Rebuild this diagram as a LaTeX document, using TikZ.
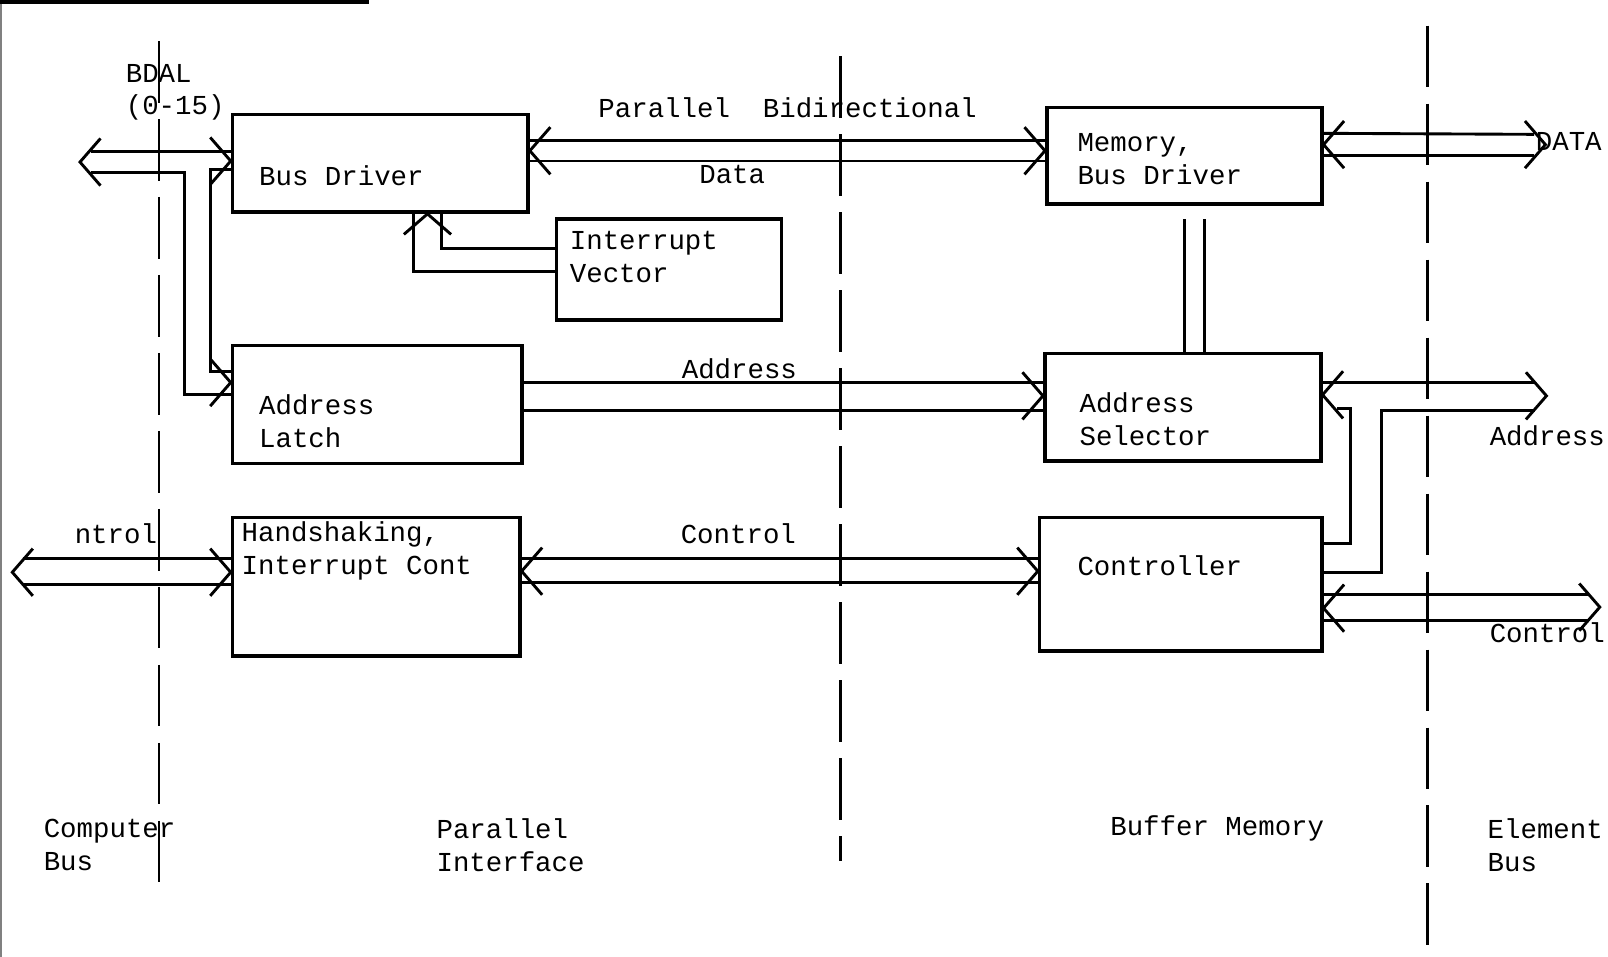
\documentclass[tikz,border=0pt]{standalone}
\usepackage{fontspec}
\setmonofont{Liberation Mono}
\usetikzlibrary{calc}
\tikzset{
  blk/.style={draw, line width=1pt, anchor=north west, inner sep=0pt},
  lbl/.style={font=\ttfamily\fontsize{7.6}{9.1}\selectfont, anchor=west, align=left, inner sep=0pt},
  busln/.style={line width=0.8pt},
  divider/.style={line width=0.8pt, dash pattern=on 0.6cm off 0.16cm},
  chev/.pic={\draw[line width=0.8pt] (-20,-23) -- (0,0) -- (-20,23);}
}
\begin{document}
\begin{tikzpicture}[x=0.01cm, y=-0.01cm]
\useasboundingbox (0,0) rectangle (1568,933);
% edges of the sheet
\draw[gray, line width=0.8pt] (1,0) -- (1,933);
\draw[black, line width=1pt] (0,2) -- (360,2);
% dividers
\draw[divider] (155,40) -- (155,870);
\draw[divider] (820,55) -- (820,840);
\draw[divider] (1392,25) -- (1392,930);
% blocks
\node[blk, minimum width=2.88cm, minimum height=0.95cm] (bd) at (225,110) {};
\node[blk, minimum width=2.19cm, minimum height=0.98cm] (iv) at (541,212) {};
\node[blk, minimum width=2.82cm, minimum height=1.15cm] (al) at (225,335) {};
\node[blk, minimum width=2.80cm, minimum height=1.35cm] (hs) at (225,503) {};
\node[blk, minimum width=2.68cm, minimum height=0.94cm] (mb) at (1019,103) {};
\node[blk, minimum width=2.69cm, minimum height=1.05cm] (as) at (1017,343) {};
\node[blk, minimum width=2.75cm, minimum height=1.30cm] (ct) at (1012,503) {};
\node[lbl] (bdt) at (252,171) {Bus Driver};
\node[lbl] (ivt) at (555,251) {Interrupt\\Vector};
\node[lbl] (alt) at (252,411) {Address\\Latch};
\node[lbl] (hst) at (235,537) {Handshaking,\\Interrupt Cont};
\node[lbl] (mbt) at (1050,155) {Memory,\\Bus Driver};
\node[lbl] (ast) at (1052,409) {Address\\Selector};
\node[lbl] (ctt) at (1050,552) {Controller};
% bus labels
\node[lbl] (bdal) at (122,90) {BDAL\\(0-15)};
\node[lbl, anchor=center] (pbd) at (768,105) {Parallel\ \ Bidirectional};
\node[lbl, anchor=center] (datal) at (714,170) {Data};
\node[lbl, anchor=center] (addrl) at (721,360) {Address};
\node[lbl, anchor=center] (ctrll) at (720,520) {Control};
\node[lbl, anchor=center] (ntrl) at (113,520) {ntrol};
\node[lbl] (dataout) at (1497,138) {DATA};
\node[lbl] (addrout) at (1452,425) {Address};
\node[lbl] (ctrlout) at (1452,617) {Control};
% section names
\node[lbl] (cbus) at (42,824) {Computer\\Bus};
\node[lbl] (pint) at (425,824) {Parallel\\Interface};
\node[lbl] (bmem) at (1082,808) {Buffer Memory};
\node[lbl] (ebus) at (1450,824) {Element\\Bus};
% BDAL bus
\coordinate (bdalend) at (78,158);
\draw[busln] ($(bdalend)+(11,-10)$) -- ($(bd.north west)+(0,38)$);
\draw[busln] ($(bdalend)+(11,10)$) -| (180,385) -- ($(al.north west)+(0,50)$);
\draw[busln] ($(bd.north west)+(0,55)$) -| (205,362) -- ($(al.north west)+(0,27)$);
\pic[rotate=180] at (bdalend) {chev};
\pic at ($(bd.north west)+(0,47)$) {chev};
\pic at ($(al.north west)+(0,38)$) {chev};
% data bus
\draw[busln] ($(bd.north east)+(0,27)$) -- ($(mb.north west)+(0,34)$);
\draw[busln] ($(bd.north east)+(0,47)$) -- ($(mb.north west)+(0,54)$);
\pic[rotate=180] at ($(bd.north east)+(0,37)$) {chev};
\pic at ($(mb.north west)+(0,44)$) {chev};
% interrupt vector
\draw[busln] ($(iv.north west)+(0,30)$) -| ($(bd.south)+(60,0)$);
\draw[busln] ($(iv.north west)+(0,53)$) -| ($(bd.south)+(32,0)$);
\pic[rotate=90] at ($(bd.south)+(46,0)$) {chev};
% address bus
\draw[busln] ($(al.north east)+(0,38)$) -- ($(as.north west)+(0,30)$);
\draw[busln] ($(al.north east)+(0,65)$) -- ($(as.north west)+(0,57)$);
\pic at ($(as.north west)+(0,43)$) {chev};
% control bus
\draw[busln] ($(hs.north east)+(0,42)$) -- ($(ct.north west)+(0,42)$);
\draw[busln] ($(hs.north east)+(0,65)$) -- ($(ct.north west)+(0,65)$);
\pic[rotate=180] at ($(hs.north east)+(0,54)$) {chev};
\pic at ($(ct.north west)+(0,54)$) {chev};
\coordinate (ctlend) at (12,558);
\draw[busln] ($(ctlend)+(10,-13)$) -- ($(hs.north west)+(0,42)$);
\draw[busln] ($(ctlend)+(10,12)$) -- ($(hs.north west)+(0,67)$);
\pic[rotate=180] at (ctlend) {chev};
\pic at ($(hs.north west)+(0,55)$) {chev};
% memory side
\draw[busln] ($(mb.south)+(0,13)$) -- (mb.south |- as.north);
\draw[busln] ($(mb.south)+(20,13)$) -- ($(mb.south |- as.north)+(20,0)$);
\coordinate (dataend) at (1507,141);
\draw[busln] ($(mb.north east)+(0,27)$) -- ($(dataend)+(-11,-10)$);
\draw[busln] ($(mb.north east)+(0,49)$) -- ($(dataend)+(-11,11)$);
\pic[rotate=180] at ($(mb.north east)+(0,38)$) {chev};
\pic at (dataend) {chev};
\coordinate (addrend) at (1508,386);
\draw[busln] ($(as.north east)+(0,30)$) -- ($(addrend)+(-11,-13)$);
\draw[busln] ($(ct.north east)+(0,55)$) -| ($(addrend)+(-161,14)$) -- ($(addrend)+(-11,14)$);
\draw[busln] ($(ct.north east)+(0,27)$) -| ($(as.north east)+(27,55)$) -- ($(as.north east)+(14,55)$);
\pic[rotate=180] at ($(as.north east)+(0,42)$) {chev};
\pic at (addrend) {chev};
\coordinate (ctrend) at (1560,592);
\draw[busln] ($(ct.north east)+(0,77)$) -- ($(ctrend)+(-11,-12)$);
\draw[busln] ($(ct.north east)+(0,102)$) -- ($(ctrend)+(-11,13)$);
\pic[rotate=180] at ($(ct.north east)+(0,90)$) {chev};
\pic at (ctrend) {chev};
\end{tikzpicture}
\end{document}
